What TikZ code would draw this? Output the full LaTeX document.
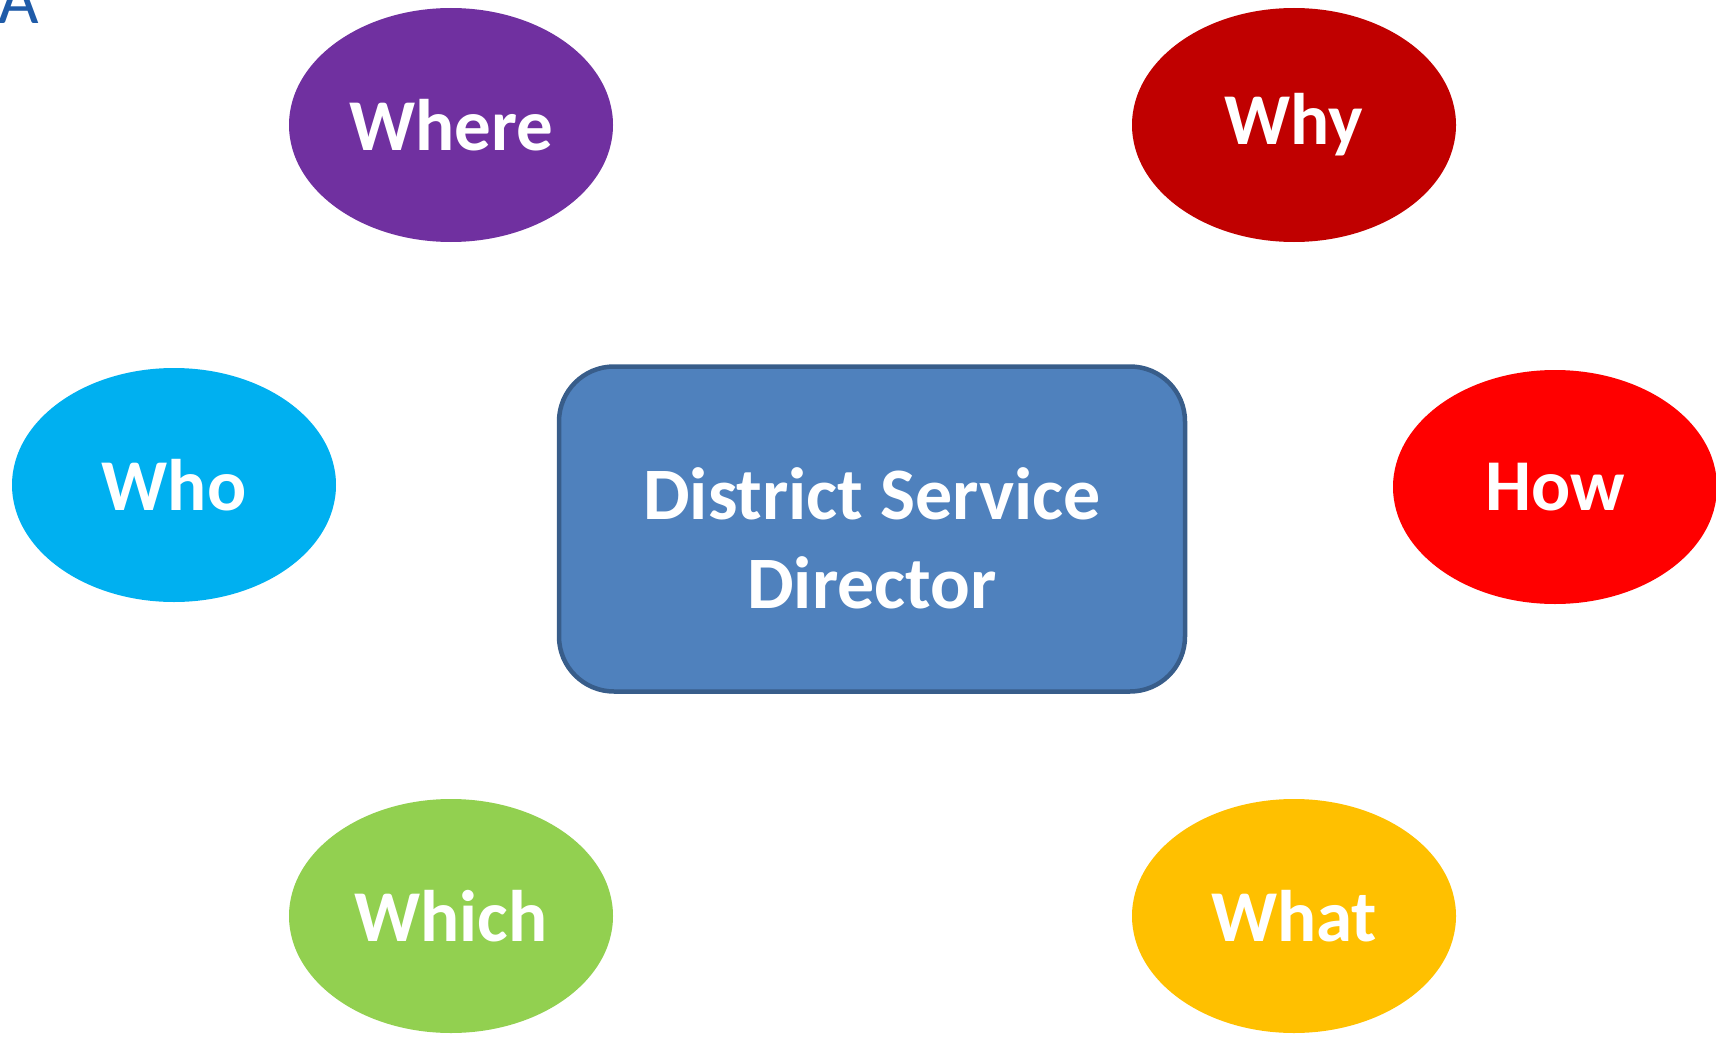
\documentclass[tikz,border=0pt]{standalone}
\usepackage{fontspec}
\setmainfont{Carlito}
\usetikzlibrary{shapes.geometric}
\definecolor{cwhere}{HTML}{7030A0}
\definecolor{cwhy}{HTML}{C00000}
\definecolor{cwho}{HTML}{00B0F0}
\definecolor{chow}{HTML}{FF0000}
\definecolor{cwhich}{HTML}{92D050}
\definecolor{cwhat}{HTML}{FFC000}
\definecolor{boxfill}{HTML}{4F81BD}
\definecolor{boxline}{HTML}{385D8A}
\definecolor{letterA}{HTML}{1F5BA8}
\tikzset{
  bubble/.style={ellipse, minimum width=324pt, minimum height=234pt, inner sep=0pt,
    text=white, font=\fontsize{73}{85}\selectfont\bfseries},
  centerbox/.style={rectangle, rounded corners=55pt, minimum width=626pt, minimum height=325pt,
    fill=boxfill, draw=boxline, line width=4.5pt},
  boxtext/.style={text=white, align=center, inner sep=0pt,
    font=\fontsize{74}{89}\selectfont\bfseries},
}
\begin{document}
\begin{tikzpicture}[x=1pt,y=-1pt]
\useasboundingbox (0,0) rectangle (1716,1038);
\node[bubble, fill=cwhere] (where) at (451,125) {Where};
\node[bubble, fill=cwhy] (why) at (1294,125) {Why};
\node[bubble, fill=cwho] (who) at (174,485) {Who};
\node[bubble, fill=chow] (how) at (1555,487) {How};
\node[bubble, fill=cwhich] (which) at (451,916) {Which};
\node[bubble, fill=cwhat] (what) at (1294,916) {What};
\node[centerbox] (dsd) at (872,529) {};
\node[boxtext] (dsdlabel) at (872,538) {District Service\\Director};
\node[anchor=base, text=letterA, font=\fontsize{70}{84}\selectfont, inner sep=0pt] (a) at (19,24) {A};
\end{tikzpicture}
\end{document}
